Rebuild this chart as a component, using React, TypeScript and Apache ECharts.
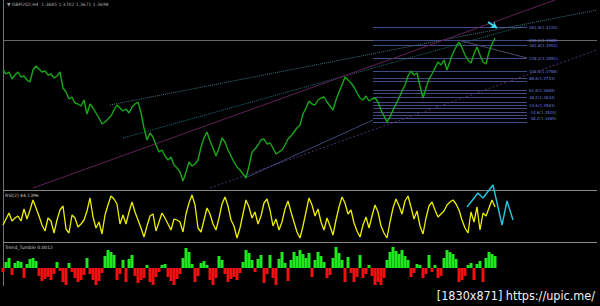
import React, { useEffect, useRef } from "react";
import * as echarts from "echarts";

// Price (main panel), one value every bar
const priceValues = [
  130, 126, 128, 121, 125, 128, 123, 124, 120, 118,
  130, 134, 131, 128, 129, 125, 126, 122, 124, 128,
  112, 108, 101, 103, 97, 96, 94, 100, 86, 96,
  92, 87, 82, 76, 78, 81, 84, 90, 95, 92,
  89, 91, 87, 93, 96, 98, 87, 72, 60, 67,
  63, 55, 48, 50, 44, 40, 43, 35, 32, 28,
  19, 28, 38, 34, 36, 40, 53, 62, 68, 59,
  52, 44, 52, 62, 58, 50, 44, 38, 33, 30,
  26, 22, 34, 48, 51, 55, 60, 61, 56, 57,
  52, 46, 48, 50, 55, 61, 64, 68, 72, 75,
  86, 92, 99, 96, 95, 100, 102, 103, 98, 94,
  90, 100, 108, 115, 123, 120, 117, 113, 107, 102,
  100, 104, 99, 101, 102, 98, 90, 84, 78, 83,
  90, 96, 102, 109, 115, 124, 129, 125, 127, 114,
  102, 112, 121, 126, 132, 138, 135, 140, 130, 139,
  147, 153, 158, 152, 145, 140, 137, 146, 153, 145,
  138, 136, 148, 156, 162,
];

// Oscillator (RSI) values 0..100
const rsiValues = [
  34, 46, 58, 42, 48, 52, 42, 66, 46, 64,
  84, 68, 52, 34, 22, 48, 42, 18, 44, 64,
  72, 26, 18, 54, 48, 30, 36, 44, 62, 88,
  50, 28, 40, 16, 54, 74, 92, 86, 76, 36,
  54, 36, 60, 80, 60, 44, 28, 10, 32, 52,
  56, 22, 40, 58, 48, 36, 24, 46, 44, 40,
  20, 56, 78, 94, 74, 28, 20, 44, 68, 56,
  36, 24, 48, 76, 90, 72, 44, 32, 8, 28,
  56, 84, 70, 48, 60, 36, 52, 78, 86, 64,
  32, 46, 24, 40, 66, 82, 60, 40, 20, 8,
  32, 60, 88, 74, 52, 66, 40, 24, 48, 32,
  14, 44, 70, 90, 78, 56, 64, 38, 22, 10,
  34, 50, 28, 52, 74, 60, 32, 18, 8, 40,
  68, 86, 72, 56, 82, 92, 70, 46, 62, 32,
  16, 48, 72, 80, 64, 50, 56, 62, 74, 80,
  84, 76, 64, 44, 28, 18, 60, 40, 70, 24,
  58, 52, 68, 84, 70,
];

// Cyan projection drawn over the oscillator: [bar, value]
const projectionBars = [154.67, 158.33, 160, 163.33, 166.33, 168, 170];
const projectionValues = [70, 98, 88, 114, 34, 82, 44];

// Histogram values (positive green, negative red)
const histValues = [
  -4, 6, 10, -7, 5, 7, 6, -10, 4, 9,
  10, 7, -8, -13, -11, -9, -12, -6, 6, -3,
  -14, -17, 5, -4, -10, -14, -12, -7, 10, -6,
  -12, -17, -13, -5, 12, 18, 16, 13, -12, -6,
  8, -14, 9, 13, -8, -15, -12, -10, 3, -14,
  -17, -9, -4, 3, 4, -9, -13, -17, -11, -6,
  10, 20, 16, 4, -14, -8, 5, 7, 3, -12,
  -17, -10, 12, 8, -6, -14, -11, -9, -12, -5,
  6, 18, 15, 8, -4, 9, 13, -15, -6, 13,
  -10, -17, 9, 16, 5, -13, 8, 16, 12, 18,
  14, 10, 15, -9, 8, 16, 12, 6, -10, -7,
  10, 21, 15, 8, -14, 11, -5, -14, -9, 13,
  -10, -6, 3, -8, -17, -14, -17, -10, 8, 16,
  21, 17, 14, 18, 12, 8, -9, -5, 4, 3,
  -10, -6, 13, -4, 3, -10, -8, 10, 18, 16,
  14, 9, -14, -12, -8, 3, 5, -12, 4, 7,
  -14, 10, 16, 14, 12,
];

// Fibonacci levels (price units) and their labels ("" = level drawn without a label)
const fibLevels = [173, 160, 155, 142, 129, 122, 119, 110, 107, 103, 98, 95, 92, 88, 85, 82, 78];
const fibLabels = [
  "261.8(1.4120)", "200.0(1.3985)", "161.8(1.3902)", "138.2(1.3851)", "100.0(1.3768)",
  "88.6(1.3743)", "", "61.8(1.3685)", "", "38.2(1.3634)",
  "", "14.6(1.3583)", "", "-14.6(1.3520)", "", "-38.2(1.3469)", "",
];
const fibStart = 123.33;
const fibEnd = 174.67;

// Trend lines: [bar1, price1, bar2, price2]
const trendA = [35.67, 95, 198, 190];
const trendB = [40, 62, 174.67, 175];
const trendC = [10, 12, 184, 200];
const trendD = [69, 12, 198, 150];
const trendE = [80.67, 22, 123.33, 80];
const trendF = [151.67, 160, 174.67, 142];
const arrowLine = [161.67, 178, 164.67, 172];
const bidLevel = 160;

const AXIS_MAX = 198;

export default function App() {
  const ref = useRef<HTMLDivElement>(null);

  useEffect(() => {
    if (!ref.current) return;
    const chart = echarts.init(ref.current, null, { renderer: "svg" });

    const seg = (t: number[], color: string, type: any, width = 1) => [
      { coord: [t[0], t[1]], lineStyle: { color, type, width } },
      { coord: [t[2], t[3]] },
    ];

    const fibData = fibLevels.map((v, i) => [
      {
        coord: [fibStart, v],
        lineStyle: { color: "#424c84", type: "solid", width: 1 },
        label: {
          show: fibLabels[i] !== "",
          position: "end",
          formatter: fibLabels[i],
          color: "#6a7cdc",
          fontSize: 4,
          distance: 2,
          fontFamily: "DejaVu Sans",
        },
      },
      { coord: [fibEnd, v] },
    ]);

    const option: any = {
      animation: false,
      backgroundColor: "#000000",
      grid: [
        { left: 3, right: 3, top: 0, height: 188 },
        { left: 3, right: 3, top: 192, height: 50 },
        { left: 3, right: 3, top: 246, height: 44 },
      ],
      xAxis: [0, 1, 2].map((g) => ({
        type: "value",
        gridIndex: g,
        min: 0,
        max: AXIS_MAX,
        show: false,
      })),
      yAxis: [
        { type: "value", gridIndex: 0, min: 12, max: 200, show: false },
        { type: "value", gridIndex: 1, min: 0, max: 100, show: false },
        { type: "value", gridIndex: 2, min: -22, max: 22, show: false },
      ],
      series: [
        {
          type: "line",
          xAxisIndex: 0,
          yAxisIndex: 0,
          data: priceValues.map((v, i) => [i, v]),
          showSymbol: false,
          lineStyle: { color: "#17a817", width: 1.4 },
          z: 5,
          markLine: {
            silent: true,
            symbol: "none",
            animation: false,
            label: { show: false },
            data: [
              [
                { coord: [0, bidLevel], lineStyle: { color: "#666666", type: "solid", width: 1 } },
                { coord: [AXIS_MAX, bidLevel] },
              ],
              ...fibData,
              seg(trendA, "#46707c", "dotted"),
              seg(trendB, "#1f6c78", "dotted"),
              seg(trendC, "#5e2258", "solid"),
              seg(trendD, "#50306e", [2, 2]),
              seg(trendE, "#3c4678", "solid"),
              seg(trendF, "#54466e", "solid"),
            ],
          },
        },
        {
          type: "line",
          xAxisIndex: 0,
          yAxisIndex: 0,
          data: [],
          markLine: {
            silent: true,
            animation: false,
            symbol: ["none", "arrow"],
            symbolSize: 6,
            label: { show: false },
            lineStyle: { color: "#3adcf2", width: 2, type: "solid" },
            data: [[{ coord: [arrowLine[0], arrowLine[1]] }, { coord: [arrowLine[2], arrowLine[3]] }]],
          },
        },
        {
          type: "line",
          xAxisIndex: 1,
          yAxisIndex: 1,
          data: rsiValues.map((v, i) => [i, v]),
          showSymbol: false,
          lineStyle: { color: "#eeee00", width: 1.3 },
        },
        {
          type: "line",
          xAxisIndex: 1,
          yAxisIndex: 1,
          clip: false,
          data: projectionBars.map((b, i) => [b, projectionValues[i]]),
          showSymbol: false,
          lineStyle: { color: "#22c6e0", width: 1.4 },
          z: 6,
        },
        {
          type: "bar",
          xAxisIndex: 2,
          yAxisIndex: 2,
          barWidth: 3,
          data: histValues.map((v, i) => ({
            value: [i, v],
            itemStyle: { color: v >= 0 ? "#1ee81e" : "#f01010" },
          })),
        },
      ],
      graphic: [
        { type: "line", shape: { x1: 3.5, y1: 0, x2: 3.5, y2: 286 }, style: { stroke: "#707070", lineWidth: 1 } },
        { type: "line", shape: { x1: 3, y1: 190.5, x2: 597, y2: 190.5 }, style: { stroke: "#8a8a8a", lineWidth: 1 } },
        { type: "line", shape: { x1: 3, y1: 242.5, x2: 597, y2: 242.5 }, style: { stroke: "#8a8a8a", lineWidth: 1 } },
        {
          type: "text",
          left: 7,
          top: 2,
          style: { text: "▼ GBPUSD,H4  1.3685 1.3702 1.3671 1.3698", fill: "#a8a8a8", fontSize: 4.5, fontFamily: "DejaVu Sans" },
        },
        {
          type: "text",
          left: 5,
          top: 193,
          style: { text: "RSI(2) 44.1396", fill: "#c8c8c8", fontSize: 4.5, fontFamily: "DejaVu Sans" },
        },
        {
          type: "text",
          left: 5,
          top: 245,
          style: { text: "Trend_Tumble 0.0012", fill: "#c8c8c8", fontSize: 4.5, fontFamily: "DejaVu Sans" },
        },
        {
          type: "text",
          right: 5,
          top: 289,
          style: {
            text: "[1830x871] https://upic.me/",
            fill: "#f0f0f0",
            fontSize: 12.5,
            fontFamily: "Liberation Sans Narrow, DejaVu Sans Condensed, sans-serif",
          },
        },
      ],
    };

    chart.setOption(option);
    return () => chart.dispose();
  }, []);

  return (
    <div
      ref={ref}
      style={{ width: 600, height: 306, position: "fixed", left: 0, top: 0, background: "#000" }}
    />
  );
}
